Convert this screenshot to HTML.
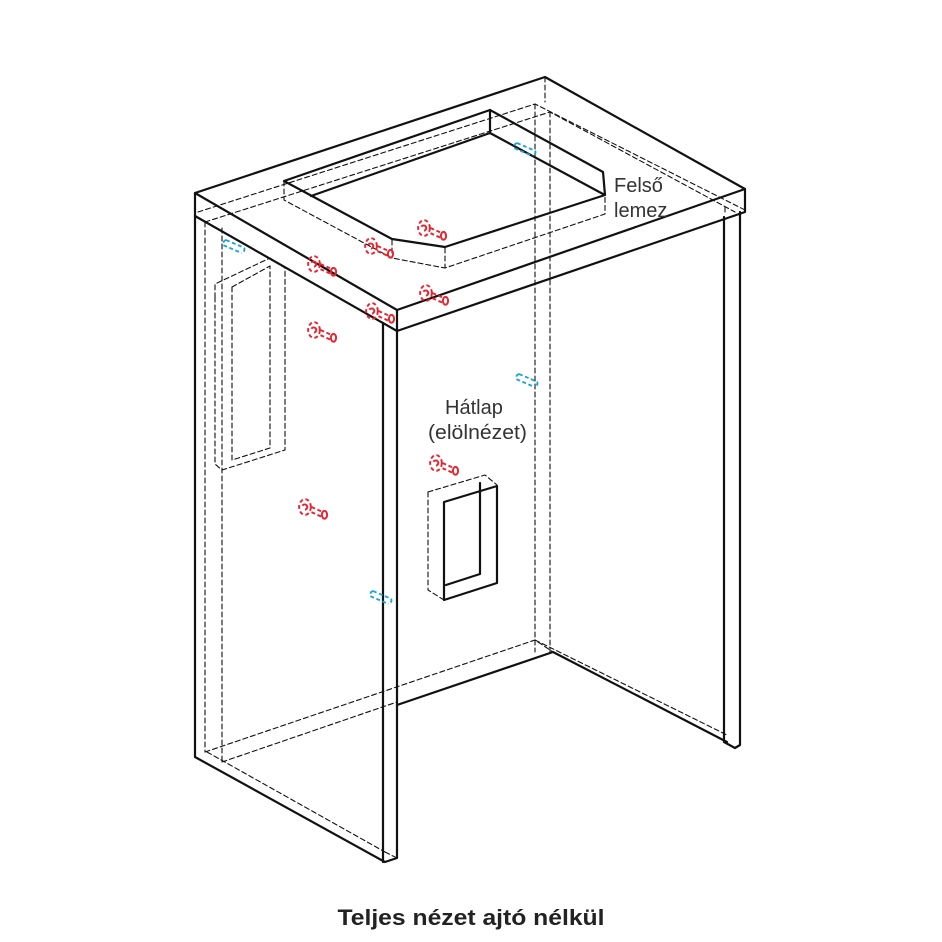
<!DOCTYPE html>
<html><head><meta charset="utf-8"><style>
html,body{margin:0;padding:0;background:#fff;}
svg{display:block}
text{font-family:"Liberation Sans",Arial,sans-serif;}
</style></head><body>
<svg width="942" height="942" viewBox="0 0 942 942" xmlns="http://www.w3.org/2000/svg">
<defs>
<g id="rs" fill="none" stroke="#e8242f" stroke-width="1.5" transform="scale(1.3)">
 <ellipse cx="0" cy="0" rx="4.5" ry="6" stroke-dasharray="3 2"/>
 <path d="M-2,-1 a2,2 0 1 1 2,3"/>
 <path d="M5,0 L14,4 M5,4 L14,8" stroke-dasharray="3 2"/>
 <ellipse cx="15" cy="6" rx="2" ry="3"/>
</g>
<g id="bs" fill="none" stroke="#1aa3d6" stroke-width="1.4" stroke-dasharray="3 2" transform="scale(1.3)">
 <path d="M0,0 L14,6 M-2,4 L12,10"/>
 <path d="M0,0 a3,3 0 0 0 -2,4"/>
 <path d="M14,6 a3,3 0 0 1 -2,4"/>
</g>
</defs>
<g fill="none" stroke="#111" stroke-linecap="round" stroke-linejoin="round">
<g stroke-width="1.1" stroke-dasharray="5 3">
 <path d="M545,77 L545,102"/>
 <path d="M535,104 L535,652"/>
 <path d="M550,112 L550,652"/>
 <path d="M198,212 L535,104 L745,210"/>
 <path d="M205,222 L550,112 L735,212"/>
 <path d="M725,207 L725,215"/>
 <path d="M205,222 L205,752"/>
 <path d="M222,228 L222,762"/>
 <path d="M205,752 L535,640 L553,652"/>
 <path d="M222,762 L397,702"/>
 <path d="M535,640 L727,735"/>
 <path d="M207,752 L385,852"/>
 <path d="M385,852 L397,858"/>
 <path d="M284,181 L284,200 L392,258 L445,268 L605,214 L605,195"/>
 <path d="M392,240 L392,258 M445,248 L445,268"/>
 <path d="M195,216 L383,323"/>
 <path d="M215,297 L215,464 L222,470 L285,450 L285,268 L270,258 L215,284 Z"/>
 <path d="M232,287 L232,460 L270,448 L270,266"/>
 <path d="M232,287 L270,266"/>
 <path d="M428,492 L485,475 L497,485 M428,492 L428,590 L444,600"/>
</g>
<g stroke-width="2.2">
 <path d="M195,193 L545,77 L745,189 L397,310 Z"/>
 <path d="M195,193 L195,216 L397,331 L745,212 L745,189"/>
 <path d="M397,310 L397,331"/>
 <path d="M284,181 L490,110 L603,172 L605,195 L445,247 L392,239 Z"/>
 <path d="M490,110 L490,133 L311,196"/>
 <path d="M490,133 L603,194"/>
 <path d="M195,216 L195,757 L385,862 L397,858 L397,331"/>
 <path d="M383,323 L383,862"/>
 <path d="M724,217 L724,742 L735,748 L740,745 L740,212"/>
 <path d="M397,705 L553,652 L727,742"/>
 <path d="M444,502 L444,600 L497,583 L497,486 Z"/>
 <path d="M446,585 L480,574 L480,483"/>
</g>
</g>
<use href="#rs" x="424" y="228"/>
<use href="#rs" x="371" y="246"/>
<use href="#rs" x="314" y="264"/>
<use href="#rs" x="426" y="293"/>
<use href="#rs" x="372" y="311"/>
<use href="#rs" x="314" y="330"/>
<use href="#rs" x="436" y="463"/>
<use href="#rs" x="305" y="507"/>
<use href="#bs" x="517" y="143"/>
<use href="#bs" x="226" y="240"/>
<use href="#bs" x="519" y="374"/>
<use href="#bs" x="373" y="591"/>
<text x="614" y="192" font-size="20" fill="#333">Felső</text>
<text x="614" y="217" font-size="20" fill="#333">lemez</text>
<text x="445" y="414" font-size="20" fill="#333">Hátlap</text>
<text x="428" y="439" font-size="20" fill="#333" textLength="99" lengthAdjust="spacingAndGlyphs">(elölnézet)</text>
<text x="471" y="925" font-size="22" font-weight="bold" fill="#222" text-anchor="middle" textLength="267" lengthAdjust="spacingAndGlyphs">Teljes nézet ajtó nélkül</text>
</svg>
</body></html>
